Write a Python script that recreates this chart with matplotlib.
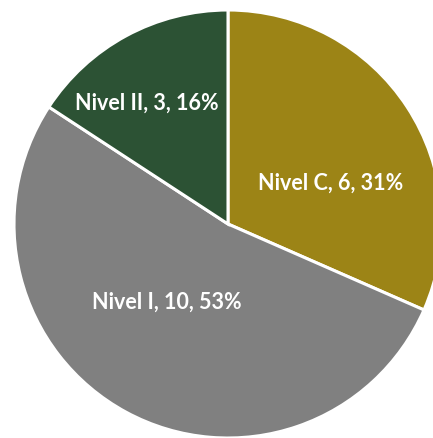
import matplotlib
matplotlib.use("Agg")
import matplotlib.pyplot as plt

categories = ["Nivel C", "Nivel I", "Nivel II"]
values = [6, 10, 3]
pct_labels = ["31%", "53%", "16%"]
colors = ["#9C8416", "#808080", "#2C5234"]

# label centres in data units (radius = 1)
label_xy = [(0.48, 0.195), (-0.285, -0.36), (-0.38, 0.57)]

fig = plt.figure(figsize=(4.33, 4.39), dpi=100, facecolor="w")
ax = fig.add_axes([0, 0, 1, 1])

wedges, _ = ax.pie(values, colors=colors, startangle=90, counterclock=False,
                   radius=1, center=(0, 0),
                   wedgeprops=dict(edgecolor="white", linewidth=2.2))

for name, v, p, (x, y) in zip(categories, values, pct_labels, label_xy):
    ax.text(x, y, f"{name}, {v}, {p}", ha="center", va="center",
            color="white", fontsize=15.5, fontweight="bold", family="Lato")

ax.set_xlim(-228 / 214, (433 - 228) / 214)
ax.set_ylim(-(439 - 225) / 214, 225 / 214)
ax.set_aspect("auto")
ax.axis("off")

fig.savefig("out.png", dpi=100, facecolor="w")
